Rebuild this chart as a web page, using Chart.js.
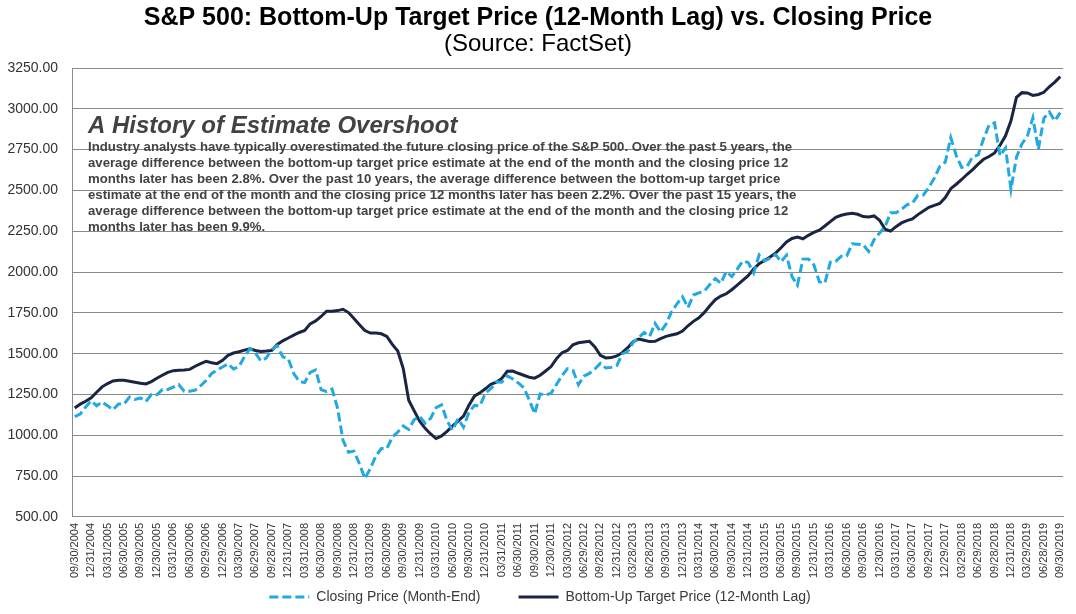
<!DOCTYPE html>
<html>
<head>
<meta charset="utf-8">
<script src="https://cdn.jsdelivr.net/npm/chart.js@4/dist/chart.umd.min.js"></script>
<style>
  html, body { margin: 0; padding: 0; background: #ffffff; }
  #wrap { width: 1076px; height: 614px; position: relative; }
</style>
</head>
<body>
<div id="wrap"><canvas id="c" width="1076" height="614"></canvas></div>
<script>
// ---------- DATA ----------
const categories = [
  "09/30/2004","10/29/2004","11/30/2004","12/31/2004",
  "01/31/2005","02/28/2005","03/31/2005","04/29/2005","05/31/2005","06/30/2005","07/29/2005","08/31/2005","09/30/2005","10/31/2005","11/30/2005","12/30/2005",
  "01/31/2006","02/28/2006","03/31/2006","04/28/2006","05/31/2006","06/30/2006","07/31/2006","08/31/2006","09/29/2006","10/31/2006","11/30/2006","12/29/2006",
  "01/31/2007","02/28/2007","03/30/2007","04/30/2007","05/31/2007","06/29/2007","07/31/2007","08/31/2007","09/28/2007","10/31/2007","11/30/2007","12/31/2007",
  "01/31/2008","02/29/2008","03/31/2008","04/30/2008","05/30/2008","06/30/2008","07/31/2008","08/29/2008","09/30/2008","10/31/2008","11/28/2008","12/31/2008",
  "01/30/2009","02/27/2009","03/31/2009","04/30/2009","05/29/2009","06/30/2009","07/31/2009","08/31/2009","09/30/2009","10/30/2009","11/30/2009","12/31/2009",
  "01/29/2010","02/26/2010","03/31/2010","04/30/2010","05/28/2010","06/30/2010","07/30/2010","08/31/2010","09/30/2010","10/29/2010","11/30/2010","12/31/2010",
  "01/31/2011","02/28/2011","03/31/2011","04/29/2011","05/31/2011","06/30/2011","07/29/2011","08/31/2011","09/30/2011","10/31/2011","11/30/2011","12/30/2011",
  "01/31/2012","02/29/2012","03/30/2012","04/30/2012","05/31/2012","06/29/2012","07/31/2012","08/31/2012","09/28/2012","10/31/2012","11/30/2012","12/31/2012",
  "01/31/2013","02/28/2013","03/28/2013","04/30/2013","05/31/2013","06/28/2013","07/31/2013","08/30/2013","09/30/2013","10/31/2013","11/29/2013","12/31/2013",
  "01/31/2014","02/28/2014","03/31/2014","04/30/2014","05/30/2014","06/30/2014","07/31/2014","08/29/2014","09/30/2014","10/31/2014","11/28/2014","12/31/2014",
  "01/30/2015","02/27/2015","03/31/2015","04/30/2015","05/29/2015","06/30/2015","07/31/2015","08/31/2015","09/30/2015","10/30/2015","11/30/2015","12/31/2015",
  "01/29/2016","02/29/2016","03/31/2016","04/29/2016","05/31/2016","06/30/2016","07/29/2016","08/31/2016","09/30/2016","10/31/2016","11/30/2016","12/30/2016",
  "01/31/2017","02/28/2017","03/31/2017","04/28/2017","05/31/2017","06/30/2017","07/31/2017","08/31/2017","09/29/2017","10/31/2017","11/30/2017","12/29/2017",
  "01/31/2018","02/28/2018","03/29/2018","04/30/2018","05/31/2018","06/29/2018","07/31/2018","08/31/2018","09/28/2018","10/31/2018","11/30/2018","12/31/2018",
  "01/31/2019","02/28/2019","03/29/2019","04/30/2019","05/31/2019","06/28/2019","07/31/2019","08/30/2019","09/30/2019"
];

const closingPrice = [
  1114.58,1130.20,1173.82,1211.92,
  1181.27,1203.60,1180.59,1156.85,1191.50,1191.33,1234.18,1220.33,1228.81,1207.01,1249.48,1248.29,
  1280.08,1280.66,1294.83,1310.61,1270.09,1270.20,1276.66,1303.82,1335.85,1377.94,1400.63,1418.30,
  1438.24,1406.82,1420.86,1482.37,1530.62,1503.35,1455.27,1473.99,1526.75,1549.38,1481.14,1468.36,
  1378.55,1330.63,1322.70,1385.59,1400.38,1280.00,1267.38,1282.83,1166.36,968.75,896.24,903.25,
  825.88,735.09,797.87,872.81,919.14,919.32,987.48,1020.62,1057.08,1036.19,1095.63,1115.10,
  1073.87,1104.49,1169.43,1186.69,1089.41,1030.71,1101.60,1049.33,1141.20,1183.26,1180.55,1257.64,
  1286.12,1327.22,1325.83,1363.61,1345.20,1320.64,1292.28,1218.89,1131.42,1253.30,1246.96,1257.60,
  1312.41,1365.68,1408.47,1397.91,1310.33,1362.16,1379.32,1406.58,1440.67,1412.16,1416.18,1426.19,
  1498.11,1514.68,1569.19,1597.57,1630.74,1606.28,1685.73,1632.97,1681.55,1756.54,1805.81,1848.36,
  1782.59,1859.45,1872.34,1883.95,1923.57,1960.23,1930.67,2003.37,1972.29,2018.05,2067.56,2058.90,
  1994.99,2104.50,2067.89,2085.51,2107.39,2063.11,2103.84,1972.18,1920.03,2079.36,2080.41,2043.94,
  1940.24,1932.23,2059.74,2065.30,2096.95,2098.86,2173.60,2170.95,2168.27,2126.15,2198.81,2238.83,
  2278.87,2363.64,2362.72,2384.20,2411.80,2423.41,2470.30,2471.65,2519.36,2575.26,2647.58,2673.61,
  2823.81,2713.83,2640.87,2648.05,2705.27,2718.37,2816.29,2901.52,2913.98,2711.74,2760.17,2506.85,
  2704.10,2784.49,2834.40,2945.83,2752.06,2941.76,2980.38,2926.46,2976.74
];

const targetPrice = [
  1168,1191,1209,1230,1264,1297,1317,1333,1337,1337,1331,1325,
  1319,1315,1329,1350,1368,1386,1396,1398,1400,1404,1423,1439,
  1453,1445,1439,1459,1490,1504,1512,1522,1530,1520,1514,1516,
  1520,1557,1579,1596,1614,1630,1642,1683,1701,1728,1760,1760,
  1764,1772,1752,1715,1677,1642,1626,1626,1622,1606,1557,1516,
  1409,1215,1150,1087,1043,1008,980,996,1024,1057,1087,1118,
  1184,1240,1260,1285,1313,1325,1348,1392,1394,1380,1368,1356,
  1350,1368,1394,1421,1470,1506,1520,1555,1567,1572,1576,1541,
  1490,1474,1476,1486,1506,1537,1573,1590,1582,1574,1576,1592,
  1606,1614,1622,1639,1671,1698,1720,1753,1794,1831,1853,1867,
  1892,1920,1949,1978,2018,2051,2071,2092,2116,2149,2184,2206,
  2214,2204,2225,2243,2257,2282,2309,2335,2348,2356,2360,2354,
  2340,2338,2344,2317,2262,2251,2278,2301,2315,2325,2352,2374,
  2397,2409,2420,2456,2511,2538,2567,2599,2628,2661,2691,2708,
  2730,2777,2835,2927,3070,3099,3097,3082,3088,3101,3135,3164,
  3197
];

const seriesNames = ["Closing Price (Month-End)", "Bottom-Up Target Price (12-Month Lag)"];
const chartTitle = "S&P 500: Bottom-Up Target Price (12-Month Lag) vs. Closing Price";
const chartSubtitle = "(Source: FactSet)";
const noteTitle = "A History of Estimate Overshoot";
const noteLines = [
  "Industry analysts have typically overestimated the future closing price of the S&P 500. Over the past 5 years, the",
  "average difference between the bottom-up target price estimate at the end of the month and the closing price 12",
  "months later has been 2.8%. Over the past 10 years, the average difference between the bottom-up target price",
  "estimate at the end of the month and the closing price 12 months later has been 2.2%. Over the past 15 years, the",
  "average difference between the bottom-up target price estimate at the end of the month and the closing price 12",
  "months later has been 9.9%."
];
const yMin = 500, yMax = 3250, yStep = 250;
const tickEvery = 3;

// ---------- RENDER ----------
const FONT = "'Liberation Sans', Arial, sans-serif";
Chart.defaults.font.family = FONT;

const notePlugin = {
  id: 'note',
  afterDatasetsDraw(chart) {
    const ctx = chart.ctx;
    ctx.save();
    ctx.fillStyle = '#424242';
    ctx.textBaseline = 'alphabetic';
    ctx.textAlign = 'left';
    ctx.font = "italic bold 24px " + FONT;
    ctx.fillText(noteTitle, 88, 133);
    ctx.font = "bold 12px " + FONT;
    const w0 = ctx.measureText(noteLines[0]).width;
    const sx = 704 / w0;
    noteLines.forEach((ln, i) => {
      ctx.save();
      ctx.translate(88, 151 + i * 16);
      ctx.scale(sx, 1);
      ctx.fillText(ln, 0, 0);
      ctx.restore();
    });
    ctx.restore();
  }
};

const legendPlugin = {
  id: 'customLegend',
  afterDraw(chart) {
    const ctx = chart.ctx;
    ctx.save();
    ctx.font = "14px " + FONT;
    ctx.textBaseline = 'middle';
    const sw = 40, gapT = 7, gapItem = 38, y = 597;
    const items = chart.data.datasets.map(ds => ({ds, tw: ctx.measureText(ds.label).width}));
    const total = items.reduce((a, it) => a + sw + gapT + it.tw, 0) + gapItem * (items.length - 1);
    let x = 540 - total / 2;
    items.forEach(it => {
      ctx.strokeStyle = it.ds.borderColor;
      ctx.lineWidth = it.ds.borderWidth;
      ctx.setLineDash(it.ds.borderDash || []);
      ctx.beginPath();
      ctx.moveTo(x, y);
      ctx.lineTo(x + sw, y);
      ctx.stroke();
      ctx.setLineDash([]);
      ctx.fillStyle = '#3a3a3a';
      ctx.fillText(it.ds.label, x + sw + gapT, y);
      x += sw + gapT + it.tw + gapItem;
    });
    ctx.restore();
  }
};

new Chart(document.getElementById('c'), {
  type: 'line',
  data: {
    labels: categories,
    datasets: [
      {
        label: seriesNames[0],
        data: closingPrice,
        borderColor: '#22a9e1',
        borderWidth: 3,
        borderDash: [9, 4],
        pointRadius: 0,
        tension: 0,
        fill: false
      },
      {
        label: seriesNames[1],
        data: targetPrice,
        borderColor: '#1b2543',
        borderWidth: 3,
        pointRadius: 0,
        tension: 0,
        fill: false
      }
    ]
  },
  options: {
    responsive: false,
    animation: false,
    layout: { padding: { left: 0, right: 0, top: 0, bottom: 30 } },
    plugins: {
      legend: { display: false },
      tooltip: { enabled: false },
      title: {
        display: true,
        text: chartTitle,
        color: '#000000',
        font: { size: 25, weight: 'bold', lineHeight: 1.0 },
        padding: { top: 6, bottom: 0 }
      },
      subtitle: {
        display: true,
        text: chartSubtitle,
        color: '#000000',
        font: { size: 24, weight: 'normal', lineHeight: 1.0 },
        padding: { top: 1, bottom: 12 }
      }
    },
    scales: {
      x: {
        type: 'category',
        offset: true,
        afterFit: s => { s.paddingLeft = 0; s.paddingRight = 13; },
        grid: { display: false, drawTicks: false },
        border: { display: true, color: '#8a8a8a', width: 1 },
        ticks: {
          autoSkip: false,
          maxRotation: 90,
          minRotation: 90,
          padding: 6,
          color: '#333333',
          font: { size: 11 },
          callback: function (v, i) { return i % tickEvery === 0 ? categories[i] : ''; }
        }
      },
      y: {
        min: yMin,
        max: yMax,
        afterFit: s => { s.width = 72; },
        grid: { color: '#8a8a8a', lineWidth: 1, drawTicks: false },
        border: { display: true, color: '#8a8a8a', width: 1 },
        ticks: {
          stepSize: yStep,
          padding: 14,
          color: '#333333',
          font: { size: 14 },
          callback: v => v.toFixed(2)
        }
      }
    }
  },
  plugins: [notePlugin, legendPlugin]
});
</script>
</body>
</html>
